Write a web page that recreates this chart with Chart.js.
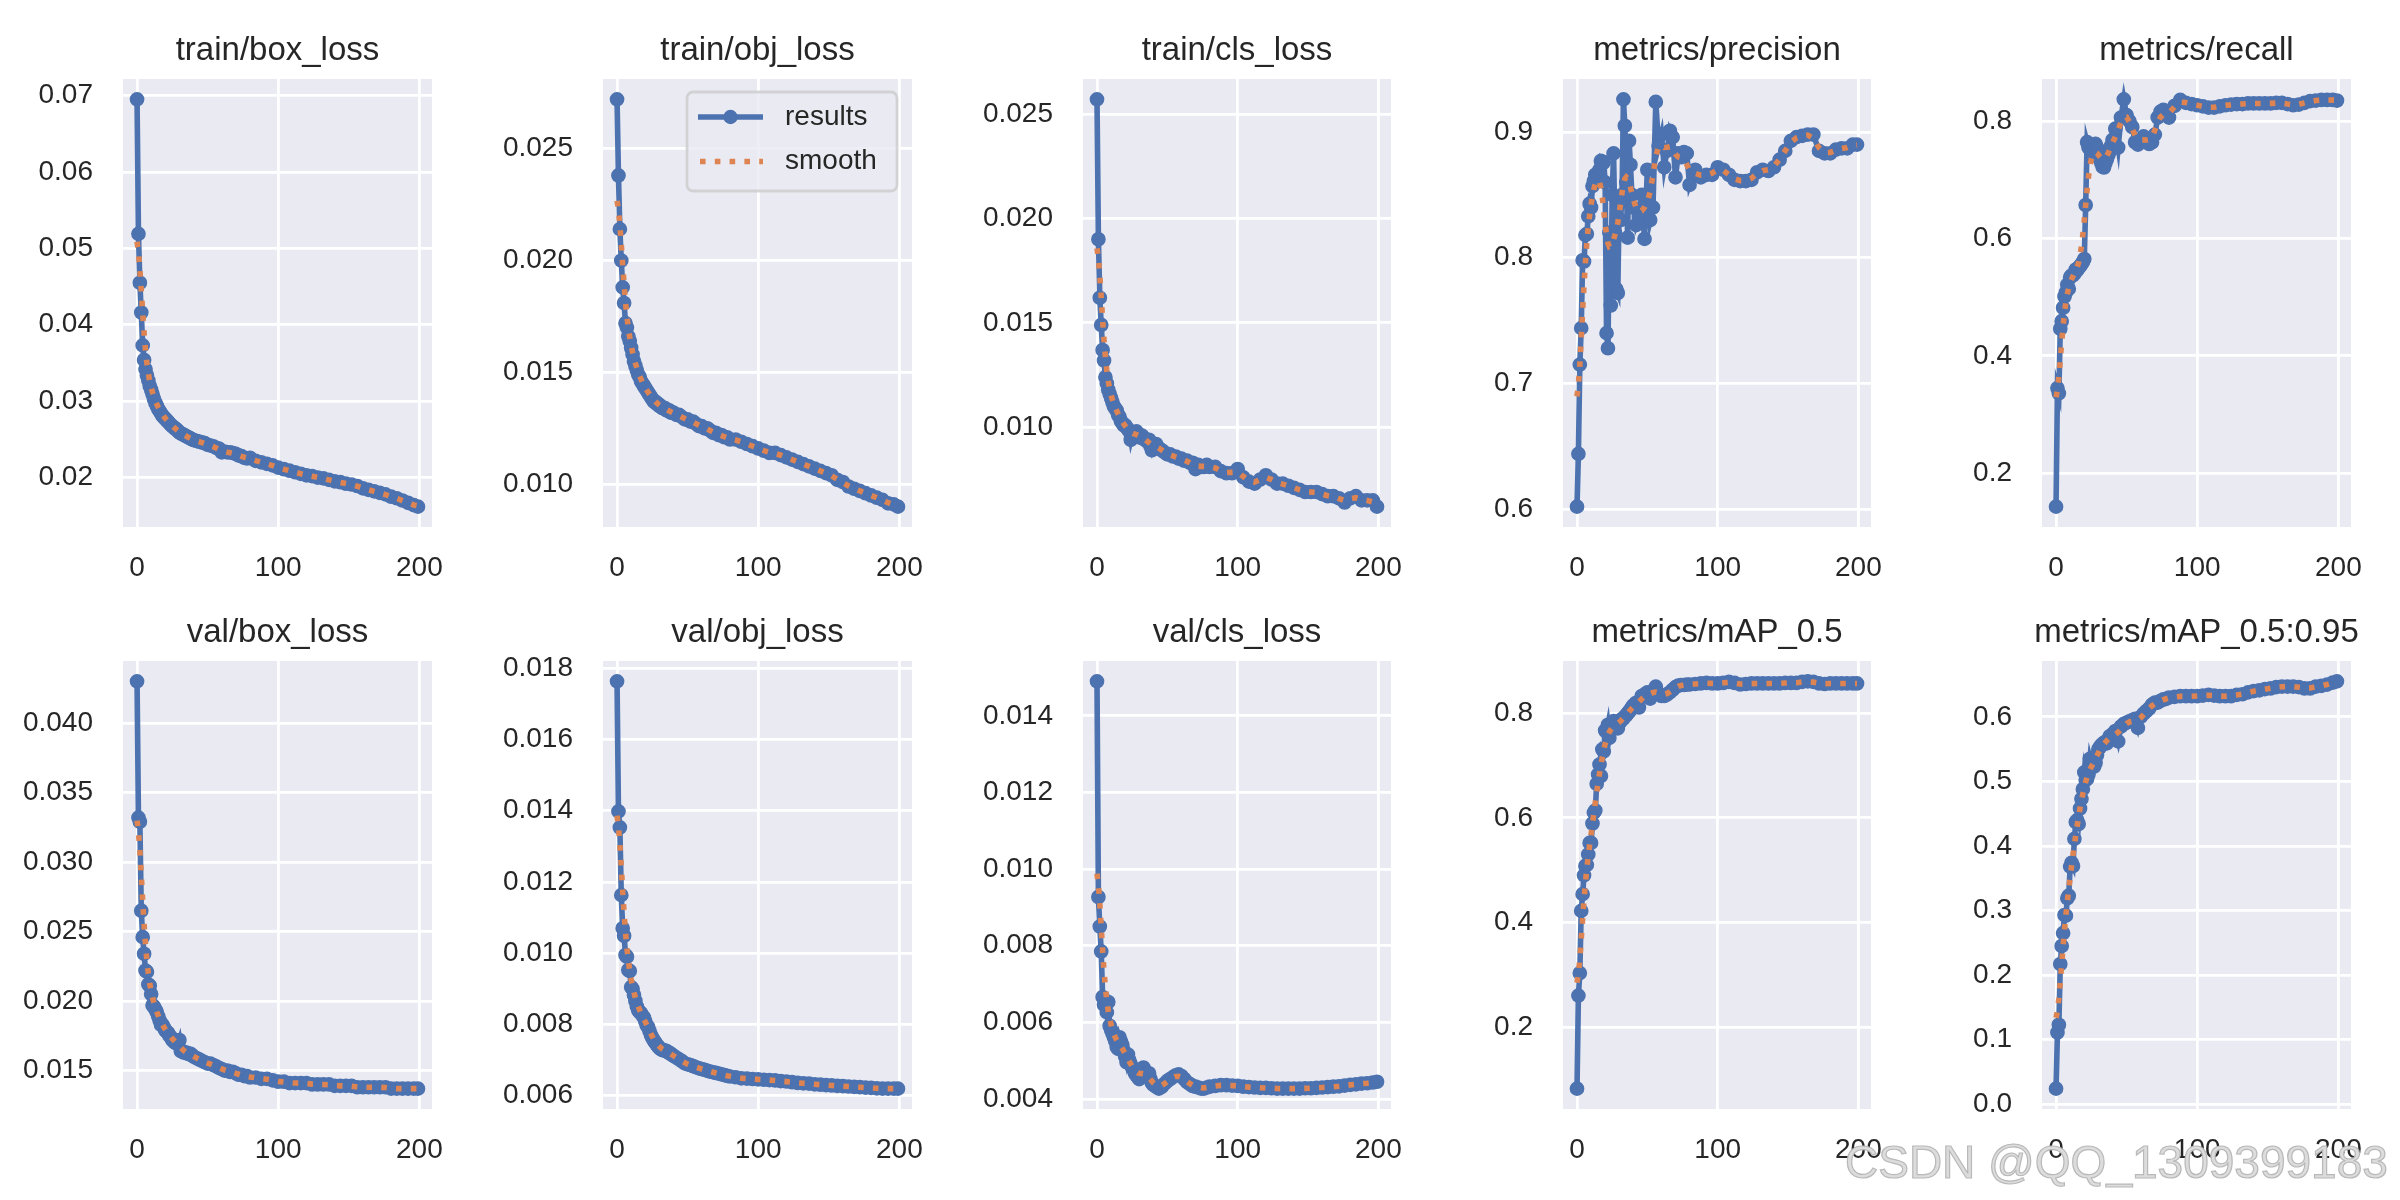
<!DOCTYPE html>
<html>
<head>
<meta charset="utf-8">
<script src="https://cdn.jsdelivr.net/npm/chart.js@4.4.1/dist/chart.umd.min.js"></script>
<style>
html,body{margin:0;padding:0;background:#ffffff;width:2400px;height:1200px;overflow:hidden;}
canvas{position:absolute;}
#wm{position:absolute;left:1845px;top:1135px;font-family:"Liberation Sans",Arial,sans-serif;font-size:46px;line-height:normal;color:#dcdcdc;-webkit-text-stroke:1.2px #b9b9b9;white-space:nowrap;z-index:5;}
</style>
</head>
<body>
<div id="wm">CSDN @QQ_1309399183</div>
<script>
// ---------------- data ----------------
const epochs = [
  0,1,2,3,4,5,6,7,8,9,10,11,12,13,14,15,16,17,18,19,20,21,22,23,24,25,26,27,28,29,30,31,32,33,34,35,36,37,38,39,40,
  42,44,46,48,50,52,54,56,58,60,62,64,66,68,70,72,74,76,78,80,
  84,88,92,96,100,104,108,112,116,120,124,128,132,136,140,144,148,152,156,160,164,168,172,176,180,184,188,192,196,
  199
];

const trainBoxLoss = [
  0.0695,0.0519,0.0455,0.0416,0.0373,0.0354,0.0342,0.0334,0.0327,0.0320,
  0.0315,0.0309,0.0303,0.0298,0.0294,0.0290,0.0287,0.0284,0.0281,0.0279,
  0.0277,0.0275,0.0273,0.0271,0.0269,0.0267,0.0266,0.0264,0.0263,0.0261,
  0.0259,0.0258,0.0257,0.0256,0.0255,0.0254,0.0253,0.0252,0.0251,0.0250,
  0.0249,
  0.0248,0.0247,0.0246,0.0245,0.0243,0.0242,0.0241,0.0239,0.0238,0.0233,0.0234,0.0233,0.0233,0.0232,0.0231,0.0229,0.0228,0.0226,0.0225,0.0226,
  0.0222,0.0220,0.0218,0.0216,0.0213,0.0211,0.0209,0.0207,0.0205,0.0203,0.0202,0.0200,0.0199,0.0197,0.0195,0.0194,0.0192,0.0191,0.0189,0.0186,0.0184,0.0182,0.0180,0.0178,0.0175,0.0173,0.0170,0.0167,0.0164,
  0.0162
];

const trainObjLoss = [
  0.0272,0.0238,0.0214,0.0200,0.0188,0.0181,0.0172,0.0170,0.0166,0.0164,
  0.0161,0.0158,0.0155,0.0153,0.0151,0.0149,0.0148,0.0146,0.0145,0.0144,
  0.0143,0.0142,0.0141,0.0140,0.0139,0.0138,0.0137,0.0137,0.0136,0.0136,
  0.0135,0.0135,0.0134,0.0134,0.0134,0.0133,0.0133,0.0133,0.0132,0.0132,
  0.0132,
  0.0131,0.0131,0.0130,0.0129,0.0129,0.0128,0.0128,0.0127,0.0126,0.0126,0.0125,0.0125,0.0124,0.0123,0.0123,0.0122,0.0122,0.0121,0.0121,0.0120,
  0.0120,0.0119,0.0118,0.0117,0.0116,0.0115,0.0114,0.0114,0.0113,0.0112,0.0111,0.0110,0.0109,0.0108,0.0107,0.0106,0.0105,0.0104,0.0102,0.0101,0.0099,0.0098,0.0097,0.0096,0.0095,0.0094,0.0093,0.00915,0.0091,
  0.0090
];

const trainClsLoss = [
  0.0257,0.0190,0.0162,0.0149,0.0137,0.0132,0.0124,0.0121,0.0118,0.0116,
  0.0114,0.0112,0.0110,0.0109,0.0108,0.0106,0.0105,0.0103,0.0102,0.0101,
  0.0101,0.0100,0.0099,0.0098,0.0094,0.0097,0.0097,0.0096,0.0098,0.0097,
  0.0096,0.0095,0.0096,0.0095,0.0094,0.0094,0.0093,0.0094,0.0091,0.0089,
  0.0091,
  0.0092,0.0090,0.0089,0.0088,0.0087,0.0087,0.0086,0.0086,0.0085,0.0085,0.0084,0.0084,0.0083,0.0083,0.0080,0.0082,0.0081,0.0081,0.0082,0.0081,
  0.0081,0.0079,0.0078,0.0078,0.0080,0.0076,0.0074,0.0073,0.0075,0.0077,0.0075,0.0073,0.0073,0.0072,0.0071,0.0070,0.0069,0.0069,0.0069,0.0068,0.0067,0.0067,0.0066,0.0064,0.0066,0.0067,0.0065,0.0065,0.0065,
  0.0062
];

const precision = [
  0.602,0.644,0.715,0.744,0.798,0.797,0.818,0.819,0.833,0.843,
  0.840,0.857,0.861,0.866,0.864,0.866,0.870,0.877,0.875,0.876,
  0.860,0.740,0.728,0.820,0.762,0.850,0.883,0.820,0.775,0.772,
  0.845,0.830,0.850,0.926,0.905,0.860,0.816,0.893,0.874,0.850,
  0.840,
  0.826,0.832,0.850,0.815,0.870,0.830,0.840,0.924,0.889,0.898,0.872,0.885,0.901,0.896,0.864,0.883,0.880,0.884,0.883,0.858,
  0.870,0.864,0.866,0.866,0.872,0.870,0.866,0.862,0.861,0.861,0.862,0.868,0.870,0.869,0.872,0.878,0.885,0.893,0.896,0.897,0.898,0.898,0.885,0.883,0.883,0.886,0.887,0.887,0.890,
  0.890
];

const recall = [
  0.143,0.345,0.336,0.446,0.459,0.482,0.501,0.508,0.521,0.514,
  0.534,0.537,0.537,0.540,0.547,0.546,0.550,0.553,0.556,0.560,
  0.565,0.657,0.764,0.755,0.755,0.748,0.751,0.755,0.761,0.755,
  0.745,0.735,0.729,0.722,0.721,0.729,0.735,0.742,0.748,0.758,
  0.768,
  0.787,0.755,0.806,0.837,0.810,0.800,0.790,0.764,0.760,0.768,0.774,0.768,0.761,0.764,0.777,0.806,0.816,0.819,0.810,0.806,
  0.826,0.836,0.831,0.829,0.827,0.825,0.823,0.823,0.825,0.827,0.828,0.829,0.829,0.830,0.830,0.830,0.830,0.830,0.831,0.831,0.829,0.827,0.828,0.831,0.834,0.835,0.836,0.836,0.836,
  0.835
];

const valBoxLoss = [
  0.0430,0.0332,0.0329,0.0265,0.0246,0.0234,0.0222,0.0221,0.0212,0.0211,
  0.0205,0.0197,0.0196,0.0194,0.0192,0.0189,0.0186,0.0183,0.0183,0.0181,
  0.0179,0.0178,0.0177,0.0175,0.0174,0.0172,0.0171,0.0170,0.0170,0.0169,
  0.0172,0.0164,0.0164,0.0163,0.0163,0.0163,0.0162,0.0162,0.0162,0.0161,
  0.0160,
  0.0159,0.0158,0.0157,0.0156,0.0155,0.0155,0.0154,0.0153,0.0152,0.0151,0.0150,0.0150,0.0149,0.0149,0.0148,0.0147,0.0147,0.0146,0.0146,0.0145,
  0.0145,0.0144,0.0144,0.0143,0.0142,0.0142,0.0141,0.0141,0.0141,0.0141,0.0140,0.0140,0.0140,0.0140,0.0139,0.0139,0.0139,0.0139,0.0138,0.0138,0.0138,0.0138,0.0138,0.0138,0.0137,0.0137,0.0137,0.0137,0.0137,
  0.0137
];

const valObjLoss = [
  0.01763,0.01398,0.01353,0.01163,0.01070,0.01049,0.00995,0.00990,0.00953,0.00950,
  0.00905,0.00900,0.00883,0.00867,0.00851,0.00840,0.00835,0.00832,0.00825,0.00820,
  0.00809,0.00798,0.00793,0.00782,0.00771,0.00763,0.00755,0.00750,0.00744,0.00739,
  0.00734,0.00731,0.00728,0.00728,0.00727,0.00725,0.00723,0.00720,0.00718,0.00715,
  0.00712,
  0.00707,0.00702,0.00697,0.00691,0.00688,0.00686,0.00683,0.00680,0.00677,0.00675,0.00673,0.00670,0.00668,0.00666,0.00664,0.00662,0.00660,0.00658,0.00656,0.00654,
  0.00652,0.00649,0.00648,0.00647,0.00646,0.00645,0.00644,0.00643,0.00641,0.00640,0.00638,0.00636,0.00635,0.00634,0.00632,0.00631,0.00630,0.00629,0.00628,0.00627,0.00626,0.00625,0.00624,0.00623,0.00622,0.00621,0.00620,0.00620,0.00620,
  0.00620
];

const valClsLoss = [
  0.01490,0.00927,0.00850,0.00785,0.00666,0.00646,0.00651,0.00626,0.00653,0.00591,
  0.00581,0.00571,0.00561,0.00551,0.00536,0.00531,0.00561,0.00551,0.00541,0.00526,
  0.00511,0.00496,0.00516,0.00501,0.00491,0.00482,0.00477,0.00467,0.00462,0.00457,
  0.00452,0.00467,0.00477,0.00482,0.00467,0.00457,0.00462,0.00467,0.00452,0.00442,
  0.00437,
  0.00432,0.00427,0.00432,0.00440,0.00447,0.00452,0.00457,0.00462,0.00464,0.00460,0.00452,0.00444,0.00439,0.00434,0.00432,0.00430,0.00427,0.00427,0.00430,0.00432,
  0.00434,0.00436,0.00436,0.00435,0.00434,0.00432,0.00431,0.00430,0.00429,0.00429,0.00428,0.00427,0.00427,0.00427,0.00427,0.00427,0.00428,0.00428,0.00429,0.00430,0.00431,0.00432,0.00433,0.00435,0.00437,0.00438,0.00440,0.00441,0.00443,
  0.00445
];

const mAP50 = [
  0.082,0.260,0.303,0.422,0.454,0.490,0.508,0.510,0.530,0.552,
  0.552,0.589,0.610,0.614,0.665,0.683,0.702,0.680,0.731,0.727,
  0.767,0.764,0.778,0.753,0.767,0.781,0.785,0.778,0.774,0.771,
  0.785,0.784,0.789,0.790,0.794,0.796,0.800,0.803,0.807,0.811,
  0.815,
  0.820,0.811,0.833,0.836,0.840,0.828,0.842,0.851,0.838,0.833,0.833,0.836,0.840,0.845,0.850,0.853,0.854,0.854,0.855,0.855,
  0.856,0.857,0.858,0.857,0.857,0.858,0.860,0.858,0.855,0.856,0.857,0.857,0.857,0.857,0.857,0.857,0.858,0.858,0.858,0.860,0.861,0.860,0.857,0.856,0.857,0.857,0.857,0.857,0.857,
  0.857
];

const mAP5095 = [
  0.024,0.111,0.123,0.217,0.245,0.265,0.293,0.292,0.319,0.323,
  0.368,0.374,0.369,0.411,0.437,0.440,0.434,0.458,0.473,0.488,
  0.514,0.502,0.504,0.511,0.535,0.526,0.524,0.523,0.529,0.541,
  0.550,0.553,0.556,0.558,0.560,0.561,0.559,0.565,0.570,0.571,
  0.573,
  0.578,0.562,0.585,0.589,0.591,0.593,0.595,0.597,0.583,0.600,0.605,0.609,0.613,0.619,0.622,0.622,0.625,0.627,0.628,0.630,
  0.631,0.632,0.632,0.632,0.632,0.633,0.634,0.633,0.632,0.632,0.632,0.634,0.635,0.638,0.640,0.641,0.643,0.644,0.646,0.647,0.647,0.647,0.646,0.644,0.644,0.647,0.648,0.650,0.653,
  0.655
];

const titles = ['train/box_loss','train/obj_loss','train/cls_loss','metrics/precision','metrics/recall',
                'val/box_loss','val/obj_loss','val/cls_loss','metrics/mAP_0.5','metrics/mAP_0.5:0.95'];
const seriesLabels = ['results','smooth'];
const xTickLabels = ['0','100','200'];
const yTicksTrainBox = ['0.02','0.03','0.04','0.05','0.06','0.07'];
const yTicksTrainObj = ['0.010','0.015','0.020','0.025'];
const yTicksTrainCls = ['0.010','0.015','0.020','0.025'];
const yTicksPrecision = ['0.6','0.7','0.8','0.9'];
const yTicksRecall = ['0.2','0.4','0.6','0.8'];
const yTicksValBox = ['0.015','0.020','0.025','0.030','0.035','0.040'];
const yTicksValObj = ['0.006','0.008','0.010','0.012','0.014','0.016','0.018'];
const yTicksValCls = ['0.004','0.006','0.008','0.010','0.012','0.014'];
const yTicksMap50 = ['0.2','0.4','0.6','0.8'];
const yTicksMap5095 = ['0.0','0.1','0.2','0.3','0.4','0.5','0.6'];

// ---------------- styling / layout ----------------
const BLUE = '#4C72B0', ORANGE = '#DD8452', FACE = '#EAEAF2', TEXT = '#262626';
const FONT = '"Liberation Sans", Arial, Helvetica, sans-serif';
const CELL_W = 480, CELL_H = 600;
const COL_BOUNDS = [[123,432],[123,432],[123,431],[123,431],[122,431]];
const ROW_BOUNDS = [[79,527],[61,509]];
const Y_AXIS_W = 100, X_AXIS_H = 60;

Chart.defaults.font.family = FONT;
Chart.defaults.color = TEXT;

// smoothing like the original results plot (gaussian, sigma = 3 epochs, reflected ends)
function gaussianSmooth(xs, ys, sigma) {
  const n = xs.length, last = xs[n - 1];
  const pts = [];
  for (let i = 0; i < n; i++) {
    const l = i > 0 ? xs[i] - xs[i - 1] : 1;
    const r = i < n - 1 ? xs[i + 1] - xs[i] : 1;
    pts.push([xs[i], ys[i], (l + r) / 2]);
  }
  const ext = pts.slice();
  pts.forEach(p => { ext.push([-1 - p[0], p[1], p[2]]); ext.push([2 * last + 1 - p[0], p[1], p[2]]); });
  const rad = Math.floor(4 * sigma + 0.5);
  return xs.map(x0 => {
    let s = 0, ws = 0;
    ext.forEach(([x, y, w]) => {
      const d = x - x0;
      if (Math.abs(d) > rad) return;
      const k = Math.exp(-d * d / (2 * sigma * sigma)) * w;
      s += k * y; ws += k;
    });
    return s / ws;
  });
}

const bgPlugin = {
  id: 'facebg',
  beforeDraw(chart) {
    const { ctx, chartArea: a } = chart;
    ctx.save();
    ctx.fillStyle = FACE;
    ctx.fillRect(a.left, a.top, a.right - a.left, a.bottom - a.top);
    ctx.restore();
  }
};

const titlePlugin = {
  id: 'ptitle',
  afterDraw(chart, args, opts) {
    const { ctx, chartArea: a } = chart;
    ctx.save();
    ctx.font = '33px ' + FONT;
    ctx.fillStyle = TEXT;
    ctx.textAlign = 'center';
    ctx.textBaseline = 'alphabetic';
    ctx.fillText(opts.text, (a.left + a.right) / 2, a.top - 19);
    ctx.restore();
  }
};

const boxLegendPlugin = {
  id: 'boxlegend',
  afterDatasetsDraw(chart) {
    const { ctx, chartArea: a } = chart;
    const w = 210, h = 99, x = a.right - 15 - w, y = a.top + 13;
    ctx.save();
    ctx.beginPath();
    ctx.roundRect(x, y, w, h, 6);
    ctx.fillStyle = 'rgba(234,234,242,0.8)';
    ctx.fill();
    ctx.lineWidth = 2.8;
    ctx.strokeStyle = 'rgba(204,204,204,0.8)';
    ctx.stroke();
    const y1 = y + 25, y2 = y + 69.5;
    ctx.setLineDash([]);
    ctx.strokeStyle = BLUE; ctx.lineWidth = 5.6; ctx.lineCap = 'butt';
    ctx.beginPath(); ctx.moveTo(x + 11, y1); ctx.lineTo(x + 76, y1); ctx.stroke();
    ctx.fillStyle = BLUE;
    ctx.beginPath(); ctx.arc(x + 43.5, y1, 7.2, 0, Math.PI * 2); ctx.fill();
    ctx.strokeStyle = ORANGE; ctx.setLineDash([5.6, 9.2]);
    ctx.beginPath(); ctx.moveTo(x + 13, y2); ctx.lineTo(x + 76, y2); ctx.stroke();
    ctx.setLineDash([]);
    ctx.font = '28px ' + FONT;
    ctx.fillStyle = TEXT;
    ctx.textAlign = 'left';
    ctx.textBaseline = 'middle';
    ctx.fillText(seriesLabels[0], x + 98, y1);
    ctx.fillText(seriesLabels[1], x + 98, y2);
    ctx.restore();
  }
};

const panelSeries = [trainBoxLoss, trainObjLoss, trainClsLoss, precision, recall,
                     valBoxLoss, valObjLoss, valClsLoss, mAP50, mAP5095];
const panelTicks = [yTicksTrainBox, yTicksTrainObj, yTicksTrainCls, yTicksPrecision, yTicksRecall,
                    yTicksValBox, yTicksValObj, yTicksValCls, yTicksMap50, yTicksMap5095];

const xMin = epochs[0] - 0.05 * (epochs[epochs.length - 1] - epochs[0]);
const xMax = epochs[epochs.length - 1] + 0.05 * (epochs[epochs.length - 1] - epochs[0]);
const xTickValues = xTickLabels.map(Number);

panelSeries.forEach((vals, i) => {
  const row = Math.floor(i / 5), col = i % 5;
  const [cl, cr] = COL_BOUNDS[col];
  const [rt, rb] = ROW_BOUNDS[row];
  const cv = document.createElement('canvas');
  cv.width = CELL_W; cv.height = CELL_H;
  cv.style.left = (col * CELL_W) + 'px';
  cv.style.top = (row * CELL_H) + 'px';
  cv.style.width = CELL_W + 'px';
  cv.style.height = CELL_H + 'px';
  document.body.appendChild(cv);

  const sm = gaussianSmooth(epochs, vals, 3);
  const lo = Math.min(...vals, ...sm), hi = Math.max(...vals, ...sm);
  const m = (hi - lo) * 0.05;
  const yLabels = panelTicks[i];
  const yVals = yLabels.map(Number);

  const plugins = [bgPlugin, titlePlugin];
  if (i === 1) plugins.push(boxLegendPlugin);

  new Chart(cv, {
    type: 'line',
    data: {
      datasets: [
        { label: seriesLabels[1], data: epochs.map((e, k) => ({ x: e, y: sm[k] })),
          borderColor: ORANGE, borderWidth: 5.6, borderDash: [5.6, 9.2], borderCapStyle: 'butt',
          pointRadius: 0, fill: false, tension: 0, order: 0 },
        { label: seriesLabels[0], data: epochs.map((e, k) => ({ x: e, y: vals[k] })),
          borderColor: BLUE, backgroundColor: BLUE, borderWidth: 5.6,
          pointRadius: 6.6, pointBorderWidth: 1.5, pointBackgroundColor: BLUE, pointBorderColor: BLUE,
          fill: false, tension: 0, order: 1 }
      ]
    },
    options: {
      responsive: false,
      animation: false,
      devicePixelRatio: 1,
      events: [],
      layout: { padding: { left: cl - Y_AXIS_W, right: CELL_W - cr, top: rt, bottom: CELL_H - rb - X_AXIS_H } },
      plugins: { legend: { display: false }, tooltip: { enabled: false }, title: { display: false }, ptitle: { text: titles[i] } },
      scales: {
        x: {
          type: 'linear', position: 'bottom', min: xMin, max: xMax,
          afterBuildTicks: s => { s.ticks = xTickValues.map(v => ({ value: v })); },
          afterFit: s => { s.height = X_AXIS_H; },
          grid: { color: '#ffffff', lineWidth: 2.8, drawTicks: false },
          border: { display: false },
          ticks: { padding: 24, font: { size: 28 }, color: TEXT, maxRotation: 0, minRotation: 0, autoSkip: false,
                   callback: (v, idx) => xTickLabels[idx] }
        },
        y: {
          type: 'linear', position: 'left', min: lo - m, max: hi + m,
          afterBuildTicks: s => { s.ticks = yVals.map(v => ({ value: v })); },
          afterFit: s => { s.width = Y_AXIS_W; },
          grid: { color: '#ffffff', lineWidth: 2.8, drawTicks: false },
          border: { display: false },
          ticks: { padding: 30, font: { size: 28 }, color: TEXT, autoSkip: false,
                   callback: (v, idx) => yLabels[idx] }
        }
      }
    },
    plugins: plugins
  });
});
</script>
</body>
</html>
